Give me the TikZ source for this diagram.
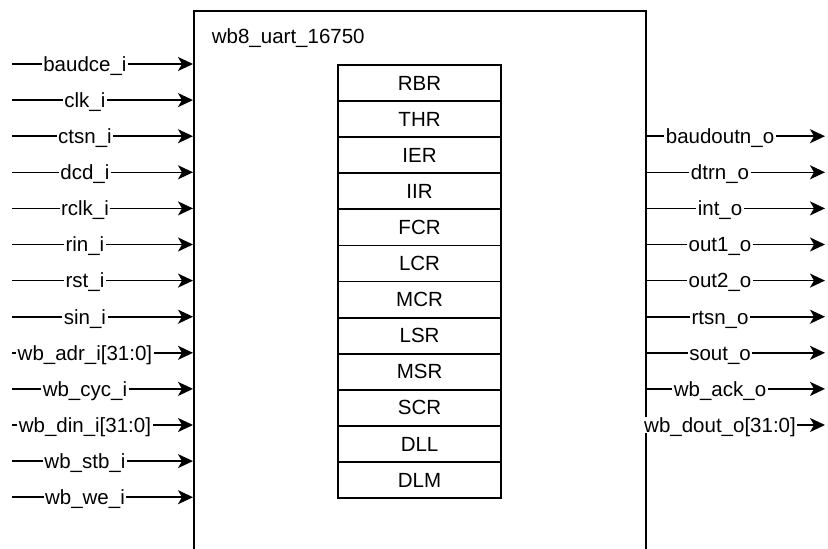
\documentclass[tikz,border=0pt]{standalone}
\usepackage{fontspec}
\setmainfont{Liberation Sans}
\usetikzlibrary{arrows.meta}
\begin{document}
\begin{tikzpicture}[x=1pt,y=-1pt,
  txt/.style={font=\fontsize{20.5}{24}\selectfont},
  boxline/.style={line width=1.8pt},
  reg/.style={draw,boxline,txt,minimum width=162.7pt,minimum height=36.1pt,inner sep=0pt,anchor=north west},
  sig/.style={line width=1.6pt,-{Stealth[length=15pt,width=14pt,inset=4pt]}},
  lbl/.style={txt,fill=white,inner xsep=1.5pt,inner ysep=1pt,text height=14.7pt,text depth=0pt}
]
\useasboundingbox (0,0) rectangle (828,549);
\clip (0,0) rectangle (828,549);
% main block (extends below the visible area)
\node[draw,boxline,minimum width=452pt,minimum height=600pt,anchor=north west,inner sep=0pt] (uart) at (193,10) {};
\node[txt,anchor=base west,inner sep=0pt] (title) at (211.7,43.5) {wb8\_uart\_16750};
% register table
\foreach \n [count=\i from 0] in {RBR,THR,IER,IIR,FCR,LCR,MCR,LSR,MSR,SCR,DLL,DLM}
  \node[reg] (r\i) at (337.3,{64+\i*36.1}) {\n};
% inputs
\foreach \n [count=\i from 0] in {baudce\_i,clk\_i,ctsn\_i,dcd\_i,rclk\_i,rin\_i,rst\_i,sin\_i,wb\_adr\_i[31:0],wb\_cyc\_i,wb\_din\_i[31:0],wb\_stb\_i,wb\_we\_i}{
  \coordinate (in\i) at (12,{64+\i*36.1});
  \draw[sig] (in\i) -- node[lbl,pos=0.403] (li\i) {\n} (in\i -| uart.west);
}
% outputs
\foreach \n [count=\i from 2] in {baudoutn\_o,dtrn\_o,int\_o,out1\_o,out2\_o,rtsn\_o,sout\_o,wb\_ack\_o,wb\_dout\_o[31:0]}{
  \coordinate (out\i) at (825,{64+\i*36.1});
  \draw[sig] (out\i -| uart.east) -- node[lbl,pos=0.411] (lo\i) {\n} (out\i);
}
\end{tikzpicture}
\end{document}
